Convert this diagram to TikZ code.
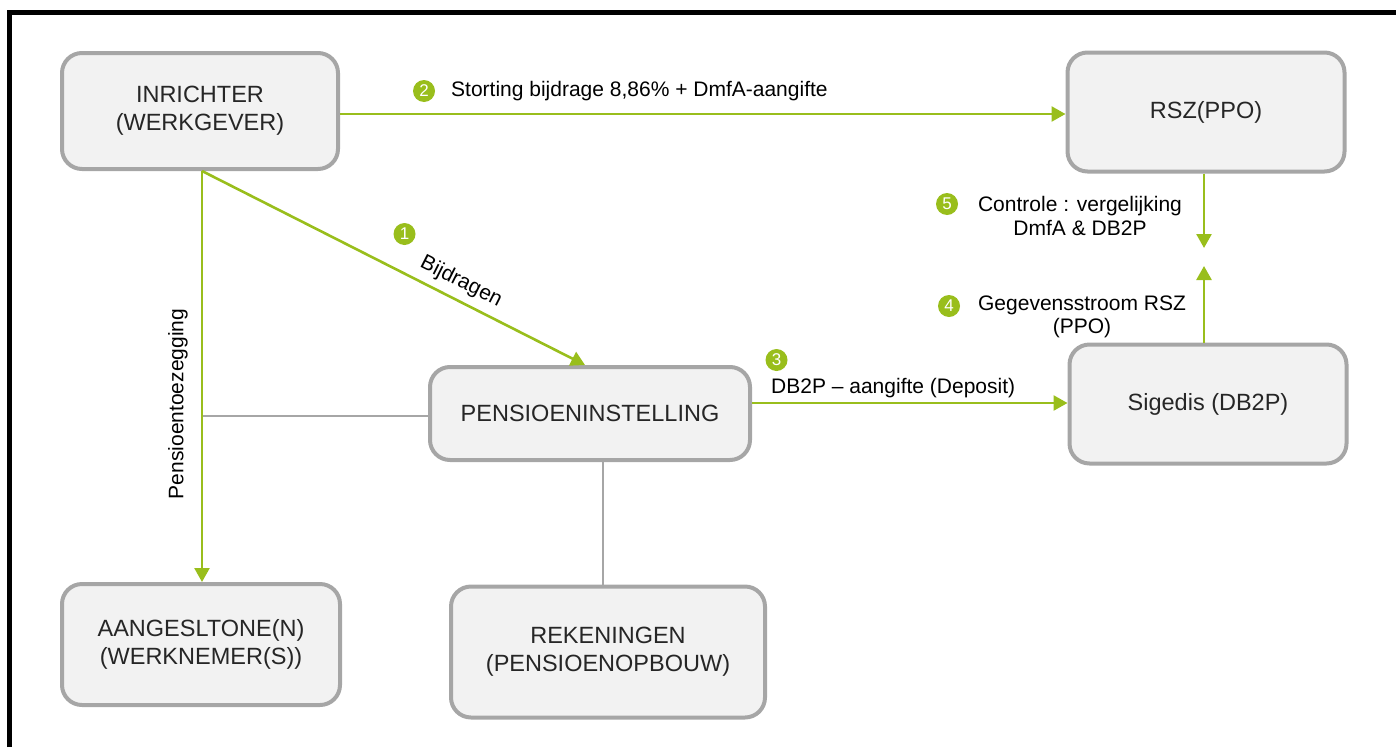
\documentclass[tikz,border=0pt]{standalone}
\usepackage{fontspec}
\setmainfont{Liberation Sans}
\usetikzlibrary{arrows.meta,calc}
\definecolor{lgreen}{RGB}{153,190,28}
\definecolor{boxline}{RGB}{166,166,166}
\definecolor{boxfill}{RGB}{242,242,242}
\definecolor{boxtext}{RGB}{38,38,38}
\begin{document}
\begin{tikzpicture}[x=1pt,y=-1pt,
  box/.style={draw=boxline, line width=4pt, fill=boxfill, rounded corners=20pt,
    text=boxtext, align=center, font=\fontsize{23.5}{28}\selectfont, inner sep=0pt},
  flow/.style={draw=lgreen, line width=2.6pt, -{Triangle[width=15pt,length=14pt]}},
  plain/.style={draw=boxline, line width=2.6pt},
  lbl/.style={font=\fontsize{21}{23.5}\selectfont, text=black, inner sep=0pt, align=center},
  num/.style={circle, fill=lgreen, text=white, minimum size=22pt, inner sep=0pt,
    font=\fontsize{17}{17}\selectfont}]
\useasboundingbox (0,0) rectangle (1396,747);
% frame
\draw[line width=4.5pt, black] (9.3,747) -- (9.3,12.5) -- (1396,12.5);
% boxes
\node[box, minimum width=276pt, minimum height=116pt] (inr) at (200,111) {INRICHTER\\(WERKGEVER)};
\node[box, minimum width=277pt, minimum height=119pt] (rsz) at (1206,112) {RSZ(PPO)};
\node[box, minimum width=320pt, minimum height=93pt] (pens) at (590,413.5) {PENSIOENINSTELLING};
\node[box, minimum width=277pt, minimum height=119pt] (sig) at (1208,404) {Sigedis (DB2P)};
\node[box, minimum width=278pt, minimum height=121pt] (aan) at (201,644.5) {AANGESLTONE(N)\\(WERKNEMER(S))};
\node[box, minimum width=314pt, minimum height=131pt] (rek) at (608,652) {REKENINGEN\\(PENSIOENOPBOUW)};
% free ends
\coordinate (c5) at (1204,248);
\coordinate (c4) at (1204,266);
\coordinate (jn) at (202,416);
% grey connectors
\draw[plain] (jn) -- (pens.west |- jn);
\draw[plain] (pens.south -| 603,0) -- (rek.north -| 603,0);
% green flows
\draw[flow] (inr.south -| 202,0) -- node[sloped, above=7pt, lbl, pos=0.655]{Bijdragen} ($(pens.north)+(-5,0)$);
\draw[flow] (inr.east |- 0,114) -- (rsz.west |- 0,114);
\draw[flow] (inr.south -| 202,0) -- (aan.north -| 202,0);
\draw[flow] (pens.east |- 0,403) -- (sig.west |- 0,403);
\draw[flow] (rsz.south -| 1204,0) -- (c5);
\draw[flow] (sig.north -| 1204,0) -- (c4);
% labels
\node[num] (n2) at (424,91) {2};
\node[lbl, anchor=west] (l2) at (451,91) {Storting bijdrage 8,86\% + DmfA-aangifte};
\node[num] (n1) at (404.5,234) {1};
\node[lbl, rotate=90] (lp) at (178,404) {Pensioentoezegging};
\node[num] (n3) at (776.5,360) {3};
\node[lbl, anchor=west] (l3) at (771,388) {DB2P – aangifte (Deposit)};
\node[num] (n5) at (947,204) {5};
\node[lbl] (l5) at (1080,216) {Controle : vergelijking\\DmfA \& DB2P};
\node[num] (n4) at (949,306) {4};
\node[lbl] (l4) at (1082,317) {Gegevensstroom RSZ\\(PPO)};
\end{tikzpicture}
\end{document}
